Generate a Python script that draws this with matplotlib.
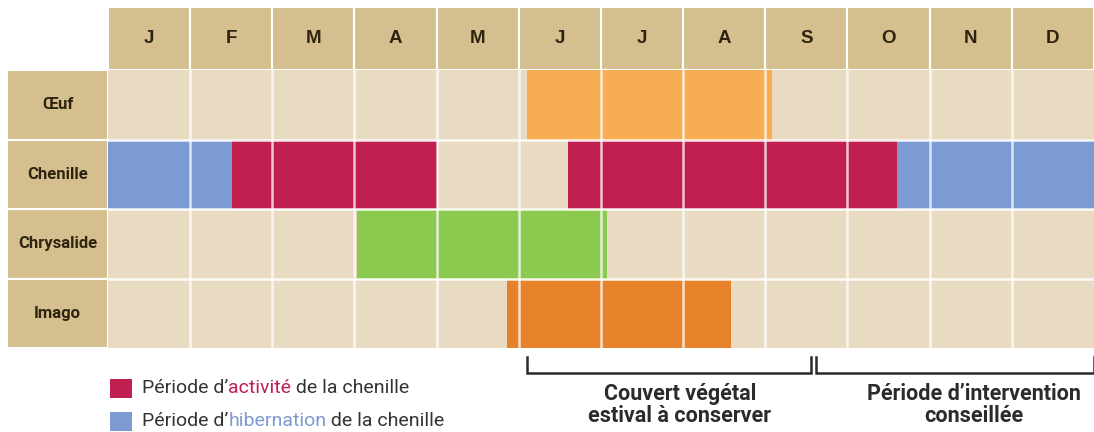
import matplotlib.pyplot as plt
from matplotlib.patches import Rectangle

plt.rcParams['font.family'] = ['Roboto', 'DejaVu Sans']

months = ["J", "F", "M", "A", "M", "J", "J", "A", "S", "O", "N", "D"]
stages = ["Œuf", "Chenille", "Chrysalide", "Imago"]

# periods in months from 1 January (start, end)
egg = [(5.1, 8.08)]
caterpillar_hib = [(0.0, 1.51), (9.6, 12.0)]
caterpillar_act = [(1.51, 4.0), (5.6, 9.6)]
chrysalis = [(3.03, 6.07)]
imago = [(4.86, 7.58)]

covert_span = (5.1, 8.55)
intervention_span = (8.62, 12.0)

col_w = 82.17  # pixels per month
x0_px = 108
row_h = 69.5

fig = plt.figure(figsize=(10.94, 4.32), dpi=100)
ax = fig.add_axes([0, 0, 1, 1])
ax.set_xlim(-x0_px / col_w, 12)
ax.set_ylim(362 / row_h, -70 / row_h)
ax.axis('off')

tan = "#D5BF8E"
body = "#E8DBC1"
text_c = "#2E2410"
header_h = 63 / row_h
label_x = -101 / col_w

# header
for i, m in enumerate(months):
    ax.add_patch(Rectangle((i, -header_h), 1, header_h, facecolor=tan,
                           edgecolor="white", lw=1.5))
    ax.text(i + 0.5, -header_h / 2, m, ha="center", va="center",
            fontsize=13.5, fontweight="bold", color=text_c,
            family=["Liberation Sans", "DejaVu Sans"])

# row labels and body cells
for r, s in enumerate(stages):
    ax.add_patch(Rectangle((label_x, r), -label_x, 1, facecolor=tan,
                           edgecolor="white", lw=1.5))
    ax.text(label_x / 2, r + 0.5, s, ha="center", va="center",
            fontsize=12, fontweight="bold", color=text_c)
    for i in range(12):
        ax.add_patch(Rectangle((i, r), 1, 1, facecolor=body, edgecolor="none"))

series = [
    (0, egg, "#F9AD52"),
    (1, caterpillar_hib, "#7B9BD2"),
    (1, caterpillar_act, "#C01F50"),
    (2, chrysalis, "#8CC94F"),
    (3, imago, "#E8822A"),
]
for r, spans, col in series:
    for a, b in spans:
        ax.barh(r + 0.5, b - a, left=a, height=1, color=col, edgecolor="none")

# white grid lines over everything
for i in range(1, 12):
    ax.plot([i, i], [0, 4], color="white", lw=1.8, alpha=0.75)
for r in range(1, 4):
    ax.plot([0, 12], [r, r], color="white", lw=1.8, alpha=0.9)

# brackets
y_top = (357 - 70) / row_h
y_bot = (373 - 70) / row_h
for a, b in [covert_span, intervention_span]:
    ax.plot([a, a, b, b], [y_top, y_bot, y_bot, y_top], color="#2B2B2B",
            lw=1.8, solid_joinstyle="miter", clip_on=False)

ax.text(6.96, (405 - 70) / row_h, "Couvert végétal\nestival à conserver",
        ha="center", va="center", fontsize=15.5, fontweight="bold",
        color="#2B2B2B", linespacing=1.05)
ax.text(10.54, (405 - 70) / row_h, "Période d’intervention\nconseillée",
        ha="center", va="center", fontsize=15.5, fontweight="bold",
        color="#2B2B2B", linespacing=1.05)

# legend
leg = [("activité", "#C01F50", 388), ("hibernation", "#7B9BD2", 421)]
for word, col, ypx in leg:
    ax.add_patch(Rectangle(((110 - x0_px) / col_w, (ypx - 9 - 70) / row_h),
                           22 / col_w, 19 / row_h, facecolor=col,
                           edgecolor="none", clip_on=False))
    x = (142 - x0_px) / col_w
    y = (ypx - 70) / row_h
    t = ax.text(x, y, "Période d’", ha="left", va="center", fontsize=14,
                color="#333333")
    fig.canvas.draw()
    t2 = ax.annotate(word, xycoords=t, xy=(1, 0), va="bottom", ha="left",
                     fontsize=14, color=col)
    ax.annotate(" de la chenille", xycoords=t2, xy=(1, 0), va="bottom",
                ha="left", fontsize=14, color="#333333")

fig.savefig("out.png", dpi=100)
